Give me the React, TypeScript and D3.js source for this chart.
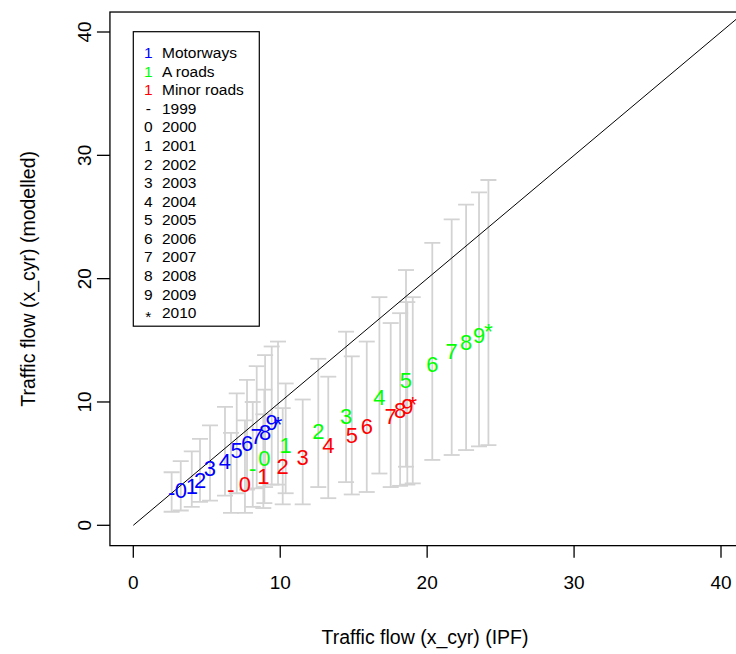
import React from "react";
import * as d3 from "d3";

const years = ["1999", "2000", "2001", "2002", "2003", "2004", "2005", "2006", "2007", "2008", "2009", "2010"];
const yearSymbols = ["-", "0", "1", "2", "3", "4", "5", "6", "7", "8", "9", "*"];
const seriesNames = ["Motorways", "A roads", "Minor roads"];
const seriesColors = ["#0000ff", "#00ff00", "#ff0000"];

// Motorways
const motorwayIPF = [2.61, 3.23, 3.98, 4.54, 5.22, 6.24, 7.04, 7.74, 8.4, 8.97, 9.42, 9.85];
const motorwayModel = [2.62, 2.86, 3.13, 3.67, 4.57, 5.21, 6.03, 6.67, 7.19, 7.49, 8.3, 8.2];
const motorwayLow = [1.1, 1.2, 1.5, 1.9, 2.0, 2.4, 2.6, 2.9, 3.0, 3.1, 3.3, 3.3];
const motorwayHigh = [4.3, 5.2, 6.0, 7.0, 8.1, 9.6, 10.7, 11.8, 12.9, 13.8, 14.5, 14.9];

// A roads
const aRoadIPF = [8.13, 8.92, 10.37, 12.59, 14.48, 16.75, 18.56, 20.35, 21.67, 22.65, 23.53, 24.17];
const aRoadModel = [4.62, 5.38, 6.51, 7.59, 8.86, 10.35, 11.78, 13.0, 14.08, 14.81, 15.38, 15.7];
const aRoadLow = [1.5, 1.8, 2.6, 3.1, 3.5, 4.2, 4.75, 5.3, 5.7, 6.1, 6.4, 6.5];
const aRoadHigh = [10.0, 11.0, 11.5, 13.5, 15.7, 18.5, 20.7, 22.9, 24.8, 26.0, 27.0, 28.0];

// Minor roads
const minorIPF = [6.65, 7.6, 8.85, 10.17, 11.53, 13.27, 14.87, 15.89, 17.52, 18.16, 18.65, 19.02];
const minorModel = [2.92, 3.27, 3.94, 4.75, 5.51, 6.51, 7.32, 8.0, 8.86, 9.27, 9.62, 9.77];
const minorLow = [1.0, 1.0, 1.4, 1.7, 1.7, 2.2, 2.5, 2.7, 3.1, 3.2, 3.3, 3.4];
const minorHigh = [7.5, 8.5, 9.0, 9.5, 10.2, 12.05, 13.7, 14.9, 16.4, 17.2, 18.1, 18.5];

const xTicks = [0, 10, 20, 30, 40];
const yTicks = [0, 10, 20, 30, 40];

const W = 736;
const H = 654;
const FONT = "'Liberation Sans', Arial, sans-serif";

export default function App() {
  const x = d3.scaleLinear().domain([0, 40]).range([133.3, 721]);
  const y = d3.scaleLinear().domain([0, 40]).range([525.3, 32]);
  const box = { x0: x(-1.59), x1: x(41.3), y0: y(41.62), y1: y(-1.65) };

  const series = [
    { xs: motorwayIPF, ys: motorwayModel, lo: motorwayLow, hi: motorwayHigh },
    { xs: aRoadIPF, ys: aRoadModel, lo: aRoadLow, hi: aRoadHigh },
    { xs: minorIPF, ys: minorModel, lo: minorLow, hi: minorHigh },
  ];

  const cap = 8;
  const labelSize = 22;
  const lineGen = d3.line<number>().x((d) => x(d)).y((d) => y(d));

  const legendX = 133.3;
  const legendY = 31.7;
  const legendW = 126;
  const legendH = 294.5;
  const rowH = 18.57;
  const legendRows = [
    ...seriesNames.map((n, i) => ({ sym: "1", text: n, color: seriesColors[i] })),
    ...years.map((yr, i) => ({ sym: yearSymbols[i], text: yr, color: "#000" })),
  ];

  return (
    <svg
      width={W}
      height={H}
      style={{ position: "fixed", left: 0, top: 0, background: "#fff" }}
      fontFamily={FONT}
    >
      <defs>
        <clipPath id="plotClip">
          <rect x={box.x0} y={box.y0} width={box.x1 - box.x0} height={box.y1 - box.y0} />
        </clipPath>
      </defs>
      <rect x={0} y={0} width={W} height={H} fill="#fff" />

      {/* error bars */}
      <g stroke="#d3d3d3" strokeWidth={1.8} fill="none" clipPath="url(#plotClip)">
        {series.map((s, si) =>
          s.xs.map((xv, i) => {
            const px = x(xv);
            const ylo = y(s.lo[i]);
            const yhi = y(s.hi[i]);
            return (
              <g key={`eb-${si}-${i}`}>
                <line x1={px} x2={px} y1={ylo} y2={yhi} />
                <line x1={px - cap} x2={px + cap} y1={ylo} y2={ylo} />
                <line x1={px - cap} x2={px + cap} y1={yhi} y2={yhi} />
              </g>
            );
          })
        )}
      </g>

      {/* identity line */}
      <path d={lineGen([0, 45]) ?? ""} stroke="#000" strokeWidth={1} fill="none" clipPath="url(#plotClip)" />

      {/* point labels */}
      <g fontSize={labelSize} textAnchor="middle" dominantBaseline="central">
        {series.map((s, si) =>
          s.xs.map((xv, i) => (
            <text key={`pt-${si}-${i}`} x={x(xv)} y={y(s.ys[i])} fill={seriesColors[si]}>
              {yearSymbols[i]}
            </text>
          ))
        )}
      </g>

      {/* plot box */}
      <rect x={box.x0} y={box.y0} width={box.x1 - box.x0} height={box.y1 - box.y0} fill="none" stroke="#000" strokeWidth={1.3} />

      {/* axes */}
      <g stroke="#000" strokeWidth={1.3}>
        {xTicks.map((t) => (
          <line key={`xt-${t}`} x1={x(t)} x2={x(t)} y1={box.y1} y2={box.y1 + 12} />
        ))}
        {yTicks.map((t) => (
          <line key={`yt-${t}`} x1={box.x0 - 13} x2={box.x0} y1={y(t)} y2={y(t)} />
        ))}
      </g>
      <g fontSize={19} fill="#000" textAnchor="middle">
        {xTicks.map((t) => (
          <text key={`xl-${t}`} x={x(t)} y={589}>
            {t}
          </text>
        ))}
        {yTicks.map((t) => (
          <text key={`yl-${t}`} transform={`translate(${91},${y(t)}) rotate(-90)`}>
            {t}
          </text>
        ))}
      </g>

      {/* axis titles */}
      <text x={(box.x0 + box.x1) / 2} y={644} fontSize={19.5} textAnchor="middle" fill="#000">
        Traffic flow (x_cyr) (IPF)
      </text>
      <text
        transform={`translate(${35},${(box.y0 + box.y1) / 2}) rotate(-90)`}
        fontSize={19.5}
        textAnchor="middle"
        fill="#000"
      >
        Traffic flow (x_cyr) (modelled)
      </text>

      {/* legend */}
      <rect x={legendX} y={legendY} width={legendW} height={legendH} fill="#fff" stroke="#000" strokeWidth={1.2} />
      <g fontSize={15.5} dominantBaseline="central">
        {legendRows.map((r, i) => {
          const cy = legendY + 21 + i * rowH;
          return (
            <g key={`lg-${i}`}>
              <text x={148.3} y={r.sym === "*" ? cy + 4 : cy} textAnchor="middle" fill={r.color}>
                {r.sym}
              </text>
              <text x={162} y={cy} fill="#000">
                {r.text}
              </text>
            </g>
          );
        })}
      </g>
    </svg>
  );
}
